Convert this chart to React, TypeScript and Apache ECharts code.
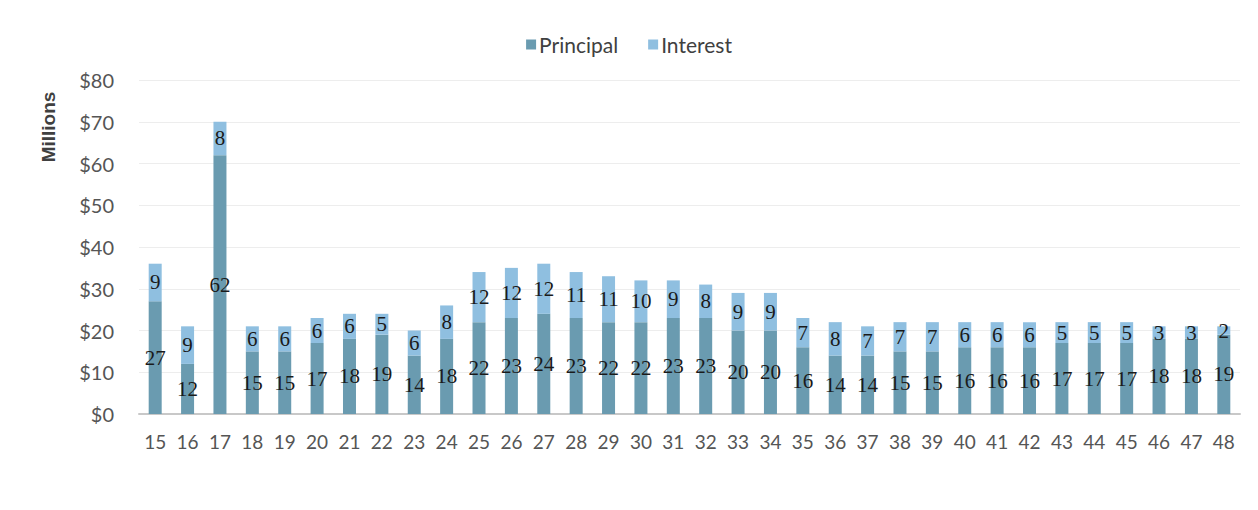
import React, { useEffect, useRef } from "react";
import * as echarts from "echarts";

const years = ["15","16","17","18","19","20","21","22","23","24","25","26","27","28","29","30","31","32","33","34","35","36","37","38","39","40","41","42","43","44","45","46","47","48"];
const principal = [27,12,62,15,15,17,18,19,14,18,22,23,24,23,22,22,23,23,20,20,16,14,14,15,15,16,16,16,17,17,17,18,18,19];
const interest = [9,9,8,6,6,6,6,5,6,8,12,12,12,11,11,10,9,8,9,9,7,8,7,7,7,6,6,6,5,5,5,3,3,2];
const yTicks = [0, 10, 20, 30, 40, 50, 60, 70, 80];

export default function App() {
  const ref = useRef<HTMLDivElement>(null);
  useEffect(() => {
    if (!ref.current) return;
    const chart = echarts.init(ref.current, null, { renderer: "svg" });
    const labelStyle = {
      show: true,
      position: "inside" as const,
      fontFamily: "Liberation Serif",
      fontSize: 21,
      color: "#1a1a1a",
    };
    chart.setOption({
      animation: false,
      legend: {
        top: 29,
        left: "center",
        itemWidth: 10,
        itemHeight: 10,
        itemGap: 30,
        icon: "rect",
        textStyle: { fontFamily: "Lato", fontSize: 21, color: "#404040", padding: [0, 0, 0, -2] },
        data: ["Principal", "Interest"],
      },
      graphic: [
        {
          type: "text",
          x: 40,
          y: 127,
          rotation: Math.PI / 2,
          style: {
            text: "Millions",
            fontFamily: "Liberation Sans",
            fontWeight: "bold",
            fontSize: 19,
            fill: "#404040",
            textAlign: "center",
            textVerticalAlign: "middle",
          },
        },
      ],
      grid: { left: 131, right: 10, top: 80, bottom: 96, containLabel: false },
      xAxis: {
        type: "category",
        data: years,
        axisTick: { show: false },
        axisLine: { lineStyle: { color: "#c8c8c8", width: 2 } },
        axisLabel: { fontFamily: "Lato", fontSize: 19, color: "#555555", margin: 18, interval: 0 },
      },
      yAxis: {
        type: "value",
        min: yTicks[0],
        max: yTicks[yTicks.length - 1],
        interval: 10,
        axisLine: { show: false },
        axisTick: { show: false },
        axisLabel: {
          formatter: (v: number) => "$" + v,
          fontFamily: "Lato",
          fontSize: 20,
          color: "#555555",
          margin: 25,
        },
        splitLine: { lineStyle: { color: "#ededed", width: 1 } },
      },
      series: [
        {
          name: "Principal",
          type: "bar",
          stack: "total",
          data: principal,
          barWidth: 13,
          itemStyle: { color: "#6a9bb0" },
          label: labelStyle,
        },
        {
          name: "Interest",
          type: "bar",
          stack: "total",
          data: interest,
          barWidth: 13,
          itemStyle: { color: "#8fbfe0" },
          label: labelStyle,
        },
      ],
    });
    return () => chart.dispose();
  }, []);
  return <div ref={ref} style={{ width: 1242, height: 510, margin: "-8px 0 0 0" }} />;
}
